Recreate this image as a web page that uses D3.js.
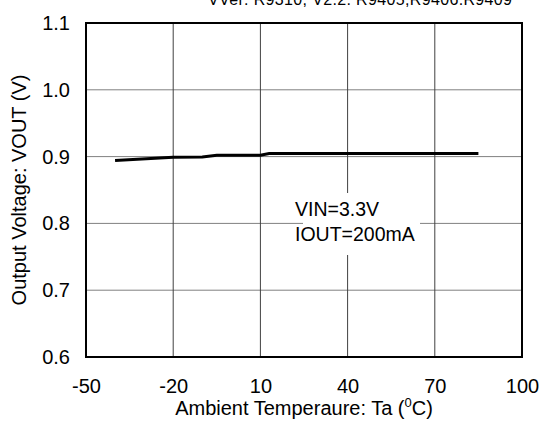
<!DOCTYPE html>
<html><head><meta charset="utf-8">
<script src="https://cdn.jsdelivr.net/npm/d3@7"></script>
<style>body{margin:0;background:#fff}svg{display:block}text{font-family:"Liberation Sans",Arial,sans-serif;fill:#000}</style>
</head><body><svg id="c" width="541" height="421"></svg>
<script>
const temps = [-40, -20, -10, -5, 10, 13, 50, 85];
const vout = [0.894, 0.899, 0.8995, 0.902, 0.902, 0.9045, 0.9045, 0.9045];
const xTicks = [-50, -20, 10, 40, 70, 100];
const yTicks = [0.6, 0.7, 0.8, 0.9, 1.0, 1.1];
const yTickLabels = ["0.6", "0.7", "0.8", "0.9", "1.0", "1.1"];
const noteLines = ["VIN=3.3V", "IOUT=200mA"];
const topNote = "VVer: R9310, V2.2: R9405,R9406:R9409";

const svg = d3.select("#c");
const L = 86, R = 522, T = 23, B = 357;
const x = d3.scaleLinear().domain([-50, 100]).range([L, R]);
const y = d3.scaleLinear().domain([0.6, 1.1]).range([B, T]);

svg.append("text").attr("x", 208).attr("y", 5).attr("font-size", 16).attr("textLength", 304).text(topNote);

// grid
svg.append("g").selectAll("line").data(yTicks.slice(1, -1)).join("line")
  .attr("x1", L).attr("x2", R).attr("y1", d => y(d)).attr("y2", d => y(d))
  .attr("stroke", "#808080").attr("stroke-width", 1);
svg.append("g").selectAll("line").data(xTicks.slice(1, -1)).join("line")
  .attr("y1", T).attr("y2", B).attr("x1", d => x(d)).attr("x2", d => x(d))
  .attr("stroke", "#404040").attr("stroke-width", 1);

// axes
const xa = svg.append("g").attr("transform", `translate(0,${B})`)
  .call(d3.axisBottom(x).tickValues(xTicks).tickSize(0).tickPadding(22).tickFormat(d => String(d)));
const ya = svg.append("g").attr("transform", `translate(${L},0)`)
  .call(d3.axisLeft(y).tickValues(yTicks).tickSize(0).tickPadding(16).tickFormat((d, i) => yTickLabels[i]));
[xa, ya].forEach(a => { a.select(".domain").remove(); a.selectAll("text").attr("font-size", 20).attr("font-family", "Liberation Sans, Arial, sans-serif").attr("fill", "#000"); });

// frame
svg.append("rect").attr("x", L).attr("y", T).attr("width", R - L).attr("height", B - T)
  .attr("fill", "none").attr("stroke", "#000").attr("stroke-width", 2);

// line
const pts = temps.map((t, i) => [t, vout[i]]);
svg.append("path").datum(pts)
  .attr("d", d3.line().x(d => x(d[0])).y(d => y(d[1])))
  .attr("fill", "none").attr("stroke", "#000").attr("stroke-width", 3);

// note
svg.append("rect").attr("x", 303).attr("y", 193).attr("width", 117).attr("height", 62).attr("fill", "#fff");
const nt = svg.append("text").attr("font-size", 19.5);
noteLines.forEach((s, i) => nt.append("tspan").attr("x", 295).attr("y", 216 + i * 25).text(s));

// axis titles
const xt = svg.append("text").attr("x", 304).attr("y", 415).attr("text-anchor", "middle").attr("font-size", 20);
xt.append("tspan").text("Ambient Temperaure: Ta (");
xt.append("tspan").attr("dy", -8).attr("font-size", 13).text("0");
xt.append("tspan").attr("dy", 8).text("C)");
svg.append("text").attr("transform", `translate(26,${(T + B) / 2}) rotate(-90)`)
  .attr("text-anchor", "middle").attr("font-size", 20).text("Output Voltage: VOUT (V)");
</script></body></html>
